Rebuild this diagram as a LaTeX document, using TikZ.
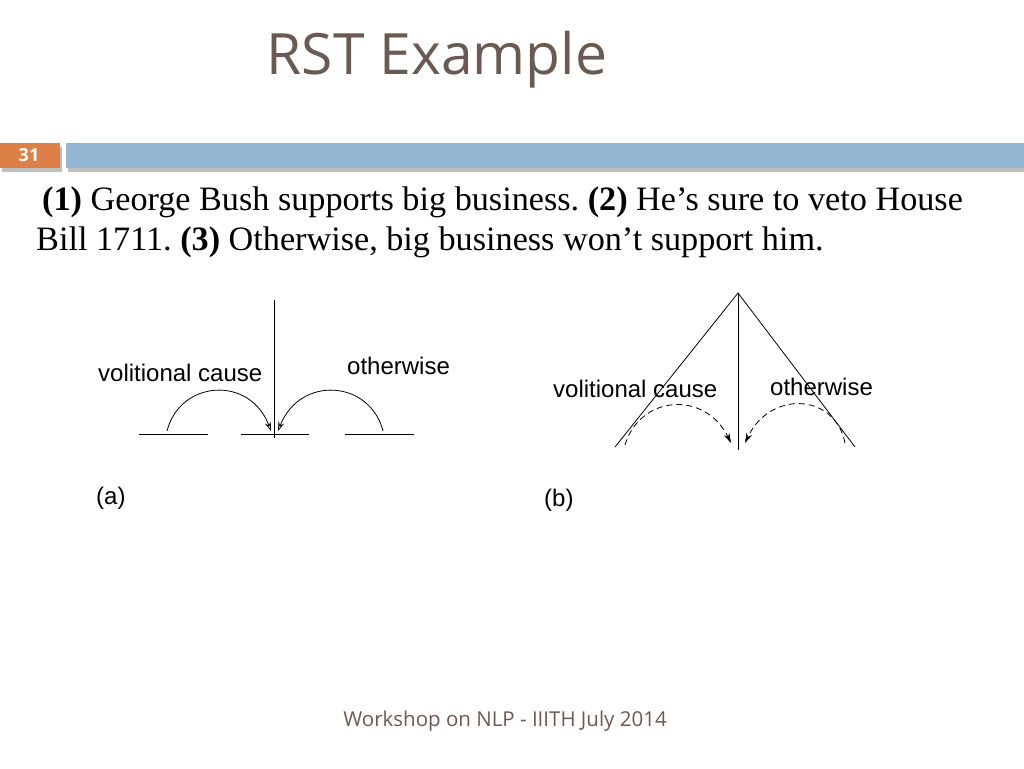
\documentclass[tikz,border=0pt]{standalone}
\usepackage{fontspec}
\setmainfont{Liberation Serif}
\newfontfamily\titlef{Open Sans}
\newfontfamily\arialf{Liberation Sans}
\usetikzlibrary{arrows.meta}
\definecolor{titlec}{HTML}{6B5A52}
\definecolor{barblue}{HTML}{94B6D2}
\definecolor{barorange}{HTML}{DD8047}
\frenchspacing
\begin{document}
\begin{tikzpicture}[x=1pt,y=-1pt,
  lbl/.style={font=\arialf\fontsize{24}{27}\selectfont,inner sep=0pt},
  ln/.style={line width=0.8pt},
  arc/.style={line width=0.8pt,-{Stealth[open,length=9pt,width=6pt]}},
  darc/.style={line width=0.8pt,dashed,dash pattern=on 6pt off 4pt,-{Stealth[length=10pt,width=6pt]}}]
\useasboundingbox (0,0) rectangle (1024,768);
\node[font=\titlef\fontsize{57}{62}\selectfont,text=titlec] (title) at (437,60) {RST Example};
\fill[black!25] (2,147) rectangle (62,172);
\fill[black!25] (68,147) rectangle (1024,172);
\fill[barorange] (0,143) rectangle (60,168);
\fill[barblue] (66,143) rectangle (1024,168);
\node[font=\titlef\bfseries\fontsize{18}{20}\selectfont,text=white] (num) at (29,155) {31};
\node[anchor=base west,font=\fontsize{34.2}{38}\selectfont,inner sep=0pt] (l1) at (42,210) {\textbf{(1)} George Bush supports big business. \textbf{(2)} He’s sure to veto House};
\node[anchor=base west,font=\fontsize{34.2}{38}\selectfont,inner sep=0pt] (l2) at (36,250) {Bill 1711. \textbf{(3)} Otherwise, big business won’t support him.};
% (a)
\coordinate (atop) at (274,300);
\coordinate (abot) at (274,438);
\draw[ln] (atop) -- (abot);
\coordinate (s1a) at (139,434); \coordinate (s1b) at (208,434);
\coordinate (s2a) at (241,434); \coordinate (s2b) at (309,434);
\coordinate (s3a) at (345,434); \coordinate (s3b) at (414,434);
\draw[ln] (s1a) -- (s1b); \draw[ln] (s2a) -- (s2b); \draw[ln] (s3a) -- (s3b);
\coordinate (a1s) at (167,431); \coordinate (a1e) at (271,431);
\coordinate (a2s) at (383,431); \coordinate (a2e) at (278,431);
\draw[arc] (a1s) .. controls (180,380) and (250,375) .. (a1e);
\draw[arc] (a2s) .. controls (370,380) and (300,375) .. (a2e);
\node[lbl,anchor=west] (va) at (98,373) {volitional cause};
\node[lbl,anchor=west] (oa) at (347,366) {otherwise};
\node[lbl,anchor=west] (la) at (96,498) {(a)};
% (b)
\coordinate (apex) at (738,293);
\coordinate (bl) at (615,447); \coordinate (br) at (855,447); \coordinate (bb) at (738,450);
\draw[ln] (bl) -- (apex) -- (br);
\draw[ln] (apex) -- (bb);
\coordinate (d1s) at (625,445); \coordinate (d1e) at (731,443);
\coordinate (d2s) at (845,443); \coordinate (d2e) at (745,443);
\draw[darc] (d1s) .. controls (640,395) and (705,390) .. (d1e);
\draw[darc] (d2s) .. controls (835,393) and (770,390) .. (d2e);
\node[lbl,anchor=west] (vb) at (553,389) {volitional cause};
\node[lbl,anchor=west] (ob) at (770,387) {otherwise};
\node[lbl,anchor=west] (lb) at (544,500) {(b)};
\node[font=\titlef\fontsize{20.5}{23}\selectfont,text=titlec] (foot) at (505,721) {Workshop on NLP - IIITH July 2014};
\end{tikzpicture}
\end{document}
